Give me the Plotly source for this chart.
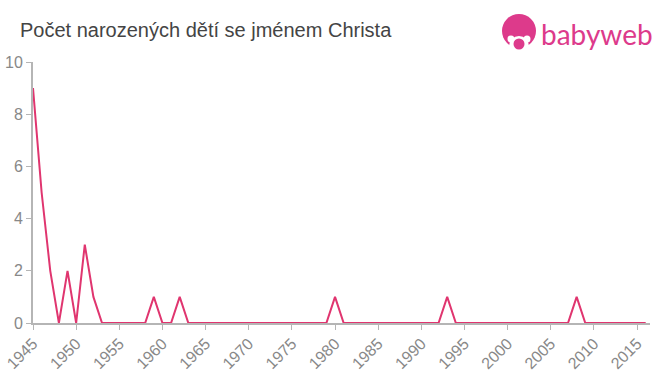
import plotly.graph_objects as go

TITLE = "Počet narozených dětí se jménem Christa"
LOGO_TEXT = "babyweb"
years = list(range(1945, 2017))
peaks = {1945: 9, 1946: 5, 1947: 2, 1949: 2, 1951: 3, 1952: 1, 1959: 1, 1962: 1, 1980: 1, 1993: 1, 2008: 1}
counts = [peaks.get(y, 0) for y in years]
x_ticks = list(range(1945, 2016, 5))
y_ticks = [0, 2, 4, 6, 8, 10]

W, H = 660, 375
L, R, T, B = 33, 10, 62, 52
LOGO = "#dd3a8b"
WHITE = "#ffffff"


def px(x):
    return x / W


def py(y):
    return 1 - y / H


def circle(cx, cy, r, color):
    return dict(type="circle", xref="paper", yref="paper", x0=(cx - r - L) / (W - L - R), x1=(cx + r - L) / (W - L - R),
                y0=(H - B - cy - r) / (H - T - B), y1=(H - B - cy + r) / (H - T - B),
                fillcolor=color, line_width=0, layer="above")


fig = go.Figure(go.Scatter(x=years, y=counts, mode="lines", line=dict(color="#e0356f", width=2),
                           cliponaxis=False, hoverinfo="skip", showlegend=False))
fig.update_layout(
    width=W, height=H, autosize=False, margin=dict(l=L, r=R, t=T, b=B, pad=0, autoexpand=False),
    paper_bgcolor="white", plot_bgcolor="white", font=dict(family="Liberation Sans, Arial, sans-serif"),
    title=dict(text=TITLE, x=px(20), xanchor="left", xref="container", y=py(30), yanchor="middle",
               yref="container", automargin=False, font=dict(size=20, color="#444444")),
    xaxis=dict(range=[1945, 2016.5], tickvals=x_ticks, ticktext=[str(t) for t in x_ticks], tickangle=-45,
               automargin=False, showgrid=False, zeroline=False, showline=True, linecolor="#b5b5b5", linewidth=2,
               ticks="outside", ticklen=5, tickwidth=1, tickcolor="#b5b5b5", ticklabelstandoff=-2,
               tickfont=dict(size=16, color="#888888")),
    yaxis=dict(range=[0, 10], tickvals=y_ticks, automargin=False, showgrid=False, zeroline=False, showline=True,
               linecolor="#b5b5b5", linewidth=2, ticks="outside", ticklen=5, tickwidth=1,
               tickcolor="#b5b5b5", tickfont=dict(size=16, color="#888888")),
    shapes=[
        circle(519, 31, 17, LOGO),
        circle(519, 46, 10, WHITE),
        circle(511, 39, 3.5, WHITE),
        circle(527, 39, 3.5, WHITE),
        circle(519, 44, 5.5, LOGO),
    ],
    annotations=[dict(text=LOGO_TEXT, xref="paper", yref="paper",
                      x=(539 - L) / (W - L - R), y=(H - B - 34) / (H - T - B), xanchor="left",
                      yanchor="middle", showarrow=False,
                      font=dict(family="Lato, sans-serif", size=28, color=LOGO))],
)
fig.write_html("out.html", config={"displayModeBar": False},
               post_script="document.body.style.margin='0';")
